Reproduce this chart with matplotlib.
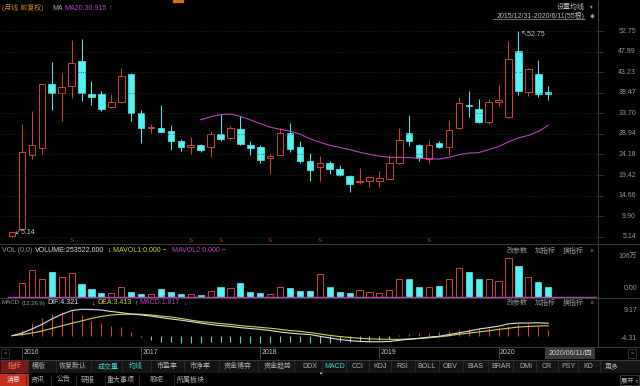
import matplotlib
matplotlib.use("Agg")
import matplotlib.pyplot as plt
from matplotlib.patches import Rectangle
from matplotlib.transforms import blended_transform_factory

plt.rcParams["font.family"] = ["Liberation Sans", "Noto Sans CJK SC", "DejaVu Sans"]
plt.rcParams["font.size"] = 5

W, H = 640, 386
RED = "#d0463a"
CYAN = "#54f2f2"
TEAL = "#6cd0d0"
MAGENTA = "#c040c8"
YELLOW = "#d2d24e"
WHITE = "#e0e0e0"
GREY = "#9a9a9a"
LINE = "#3a3a3a"

# monthly bars 2015/12 .. 2020/06, forward adjusted
opens = [5.30, 6.90, 24.1, 25.6, 40.5, 38.5, 40.0, 45.9, 38.2, 38.2,
         35.25, 36.25, 42.9, 33.85, 30.3, 30.2, 29.6, 27.4, 25.8, 26.3,
         25.8, 28.9, 28.1, 30.0, 26.3, 25.8, 23.3, 24.1, 29.2, 25.8,
         22.6, 21.2, 22.2, 20.9, 19.3, 17.7, 18.1, 18.1, 18.6, 22.2,
         29.2, 26.4, 23.1, 26.9, 26.0, 30.2, 35.7, 34.7, 31.6, 36.4,
         32.9, 48.1, 38.6, 42.9, 38.55]
highs = [6.20, 31.2, 34.3, 40.6, 45.6, 43.1, 50.6, 50.9, 41.2, 38.9,
         38.2, 44.1, 43.1, 34.5, 31.2, 35.6, 31.0, 27.7, 28.3, 26.6,
         29.6, 33.5, 30.8, 33.1, 27.2, 26.4, 24.3, 30.4, 31.4, 27.2,
         24.5, 23.8, 22.7, 21.8, 19.5, 21.0, 19.0, 20.4, 24.0, 30.4,
         33.3, 26.6, 27.5, 27.2, 32.2, 37.5, 38.9, 37.1, 37.1, 40.2,
         50.5, 52.75, 44.3, 46.0, 40.0]
lows = [5.14, 6.90, 23.1, 24.3, 34.5, 32.0, 37.2, 36.6, 35.6, 34.3,
        35.0, 36.0, 32.0, 26.9, 29.1, 29.3, 25.1, 24.9, 24.3, 24.7,
        23.7, 27.2, 27.5, 26.4, 24.1, 22.3, 19.6, 24.0, 24.8, 22.2,
        18.1, 18.1, 19.7, 19.1, 15.4, 17.4, 16.6, 16.7, 18.5, 21.9,
        26.2, 22.7, 22.2, 25.7, 24.1, 30.0, 32.9, 31.4, 31.2, 35.3,
        32.7, 37.9, 37.7, 37.4, 36.8]
closes = [6.16, 24.7, 26.4, 40.4, 38.5, 39.8, 45.25, 38.5, 37.5, 34.6,
          36.25, 42.3, 33.7, 30.2, 30.5, 29.4, 27.4, 25.8, 26.4, 25.2,
          28.85, 27.7, 30.2, 26.6, 25.6, 22.9, 23.8, 29.1, 25.4, 22.6,
          20.6, 22.2, 20.8, 19.5, 17.4, 18.0, 18.9, 18.8, 22.3, 27.5,
          27.2, 23.3, 26.4, 26.0, 29.9, 36.2, 35.5, 31.8, 36.4, 36.8,
          46.2, 38.85, 43.9, 38.2, 38.2]
# volume in 万
volumes = [0.5, 34.8, 69.4, 45.2, 63.4, 50.4, 60.8, 33.0, 19.2, 10.4,
           8.8, 24.4, 11.4, 7.0, 6.2, 19.2, 11.4, 6.2, 7.0, 3.6,
           14.0, 24.4, 21.8, 36.4, 13.0, 10.4, 7.0, 24.4, 23.4, 15.6,
           15.6, 59.0, 26.0, 13.0, 10.4, 17.4, 13.0, 10.4, 17.4, 45.0,
           45.0, 24.4, 24.4, 28.6, 46.0, 73.8, 63.4, 46.0, 46.5, 40.8,
           99.8, 80.6, 50.4, 39.0, 25.35]
ma20_first = 19
ma20 = [32.2, 32.9, 33.4, 33.55, 33.0, 32.2, 31.3, 30.5, 30.0, 29.6,
        28.9, 27.8, 27.0, 26.3, 25.8, 25.3, 24.7, 24.2, 23.8, 23.5,
        23.5, 23.45, 23.3, 23.2, 23.1, 23.5, 24.1, 24.5, 24.6, 25.3,
        26.0, 27.1, 28.0, 28.6, 29.5, 30.9]
dif = [0.0, 0.9, 2.3, 3.9, 5.8, 7.4, 8.7, 9.17, 9.1, 8.9,
       8.4, 8.0, 7.5, 7.2, 6.8, 6.3, 5.8, 5.4, 4.9, 4.4,
       3.9, 3.5, 3.2, 2.8, 2.5, 2.2, 1.8, 1.3, 0.9, 0.6,
       0.4, -0.2, -0.8, -1.3, -1.7, -2.0, -2.1, -2.1, -2.0, -1.6,
       -1.2, -0.9, -0.5, -0.2, 0.4, 1.0, 1.6, 2.3, 2.8, 3.3,
       4.1, 4.4, 4.4, 4.5, 4.321]
dea = [0.0, 0.4, 0.9, 1.6, 2.5, 3.4, 4.3, 5.1, 6.0, 6.7,
       7.2, 7.4, 7.5, 7.45, 7.2, 6.8, 6.5, 6.0, 5.4, 4.9,
       4.6, 4.2, 3.9, 3.5, 3.2, 2.9, 2.6, 2.2, 1.8, 1.5,
       1.1, 0.6, 0.1, -0.3, -0.6, -0.9, -1.1, -1.2, -1.25, -1.25,
       -1.15, -1.0, -0.7, -0.4, 0.0, 0.5, 0.9, 1.3, 1.7, 2.2,
       2.6, 3.0, 3.2, 3.4, 3.413]
macd_hist = [0.0, 2.0, 4.3, 6.2, 7.5, 8.1, 8.6, 7.2, 5.2, 4.3,
             3.4, 2.9, 1.4, -0.5, -1.5, -2.1, -2.3, -2.4, -2.4, -2.6,
             -2.3, -2.3, -2.3, -2.4, -2.4, -2.6, -2.4, -2.1, -2.1, -2.3,
             -2.6, -2.6, -2.4, -2.3, -2.2, -2.0, -1.7, -1.4, -1.0, 0.2,
             0.6, 0.9, 1.1, 1.3, 1.7, 2.0, 2.3, 2.5, 2.6, 2.7,
             3.4, 3.9, 3.9, 3.4, 1.817]
price_ticks = [5.14, 9.90, 14.66, 19.42, 24.18, 28.94, 33.70, 38.47, 43.23, 47.99, 52.75]
year_labels = ["2016", "2017", "2018", "2019", "2020"]
year_bar = [1, 13, 25, 37, 49]
dividend_bars = [6, 18, 21, 26, 31, 42]
tab_names = ["指标", "模版", "恢复默认", "成交量", "均线", "市盈率", "市净率", "资金博弈",
             "资金趋势", "DDX", "MACD", "CCI", "KDJ", "RSI", "BOLL", "OBV", "BIAS",
             "BRAR", "DMI", "CR", "PSY", "KD", "更多"]
tab_active = ["成交量", "均线", "MACD"]
news_names = ["消息", "资讯", "公告", "研报", "重大事项", "股吧", "所属板块"]

# layout (pixels)
TAB_X = [15, 39, 72.5, 108.5, 135.5, 167, 200, 237.5, 278, 310, 334.5, 358, 380.5,
         402, 427, 450.5, 475.5, 501, 525.5, 547, 568, 588.5, 611.5]
NEWS_X = [14, 38, 63.5, 88, 121, 156.5, 190.5]
X0, STEP, RIGHT = 12.0, 9.93, 597
XLIM = (-X0 / STEP, (RIGHT - X0) / STEP)

fig = plt.figure(figsize=(W / 100, H / 100), dpi=100, facecolor="black")


def px_axes(x0, y0, x1, y1):
    ax = fig.add_axes([x0 / W, 1 - y1 / H, (x1 - x0) / W, (y1 - y0) / H])
    ax.set_axis_off()
    ax.set_xlim(XLIM)
    return ax


n = len(closes)
idx = list(range(n))
up = [c >= o for o, c in zip(opens, closes)]

# ---- price panel
ax = px_axes(0, 20, RIGHT, 243)
ax.set_ylim(5.14 - 6.3 / 4.32, 5.14 + 216.7 / 4.32)
for t in price_ticks:
    ax.axhline(t, color="#262626", lw=0.5, ls=(0, (1.5, 2)))
for i in idx:
    o, h, l, c = opens[i], highs[i], lows[i], closes[i]
    if up[i]:
        ax.vlines(i, max(o, c), h, color=RED, lw=0.7)
        ax.vlines(i, l, min(o, c), color=RED, lw=0.7)
        ax.add_patch(Rectangle((i - 0.33, o), 0.66, c - o, facecolor="black",
                               edgecolor=RED, lw=0.7))
    else:
        ax.vlines(i, l, h, color=CYAN, lw=0.7)
        ax.add_patch(Rectangle((i - 0.33, c), 0.66, o - c, facecolor=CYAN,
                               edgecolor=CYAN, lw=0.5))
ax.plot(range(ma20_first, ma20_first + len(ma20)), ma20, color=MAGENTA, lw=0.8)
imax = highs.index(max(highs))
imin = lows.index(min(lows))
ax.text(imax + 0.25, max(highs) - 0.9, "↖52.75", color="#c8c8c8", ha="left", va="center")
ax.text(imin + 0.3, min(lows) + 1.0, "↙5.14", color="#c8c8c8", ha="left", va="center")
for i in dividend_bars:
    ax.text(i, 4.15, "S", color="#e03030", ha="center", va="center", fontsize=4.5)
trans = blended_transform_factory(fig.transFigure, ax.transData)
for t in price_ticks:
    ax.text(636 / W, t, f"{t:.2f}", transform=trans, ha="right", va="center", color=GREY)
    ax.plot([RIGHT / W, 603 / W], [t, t], transform=trans, color=LINE, lw=0.6, clip_on=False)

# ---- volume panel
axv = px_axes(0, 243, RIGHT, 298)
axv.set_ylim(-1.3 * 2.6, 53.7 * 2.6)
for i in idx:
    if up[i]:
        axv.bar(i, volumes[i], width=0.62, facecolor="black", edgecolor=RED, lw=0.7)
    else:
        axv.bar(i, volumes[i], width=0.62, facecolor=CYAN, edgecolor=CYAN, lw=0.5)
axv.axhline(0, xmin=8 / RIGHT, color=MAGENTA, lw=1.0)

# ---- MACD panel
axm = px_axes(0, 298, RIGHT, 346)
axm.set_ylim(-10.3 * 0.347, 37.7 * 0.347)
for i in idx:
    axm.vlines(i, 0, macd_hist[i], color=RED if macd_hist[i] >= 0 else TEAL, lw=0.8)
axm.plot(idx, dea, color=YELLOW, lw=0.8)
axm.plot(idx, dif, color=WHITE, lw=0.8)

# ---- overlay in pixel coordinates
ov = fig.add_axes([0, 0, 1, 1])
ov.set_axis_off()
ov.set_xlim(0, W)
ov.set_ylim(H, 0)


def txt(x, y, s, color=GREY, ha="left", **kw):
    ov.text(x, y, s, color=color, ha=ha, va="center", **kw)


# frame lines
ov.plot([RIGHT + 0.5, RIGHT + 0.5], [0, 346], color=LINE, lw=0.8)
for y in (243.5, 298, 346.5, 359.5):
    ov.plot([0, W], [y, y], color=LINE, lw=0.8)
ov.add_patch(Rectangle((173, 0), 10, 1.5, color="#d07020"))

# header
txt(2, 8, "(月线 前复权)", color="#d4822a")
txt(52, 8, "MA", color="#b0b0b0")
txt(64, 8, "MA20:30.915", color=MAGENTA)
txt(108, 8, "↑", color=MAGENTA)
txt(585, 7, "设置均线", color="#c0c0c0", ha="right")
txt(591, 7, "▾", color=GREY, ha="center", fontsize=4)
txt(585, 16, "2015/12/31-2020/6/11(55根)", color="#c0c0c0", ha="right")
ov.plot([493, 585], [19, 19], color="#a0a0a0", lw=0.5)
txt(592, 16, "◆", color=GREY, ha="center", fontsize=3.5)

# volume header
txt(2, 250, "VOL (0,0)", color=GREY)
txt(35, 250, "VOLUME:253522.000", color=WHITE)
txt(107, 250, "↓", color=WHITE)
txt(113, 250, "MAVOL1:0.000 −", color=YELLOW)
txt(172, 250, "MAVOL2:0.000 −", color=MAGENTA)
for y in (251, 303):
    txt(507, y, "改参数", color=GREY)
    txt(535, y, "加指标", color=GREY)
    txt(563, y, "换指标", color=GREY)
    txt(590, y, "×", color=GREY)
txt(637, 256, "106万", ha="right")
txt(637, 288, "0.00", ha="right")

# MACD header
txt(2, 303, "MACD", color=GREY, fontsize=4.4)
txt(21.5, 303, "(12,26,9)", color=GREY, fontsize=4.2)
txt(47, 303, "DIF:4.321", color=WHITE)
txt(91, 303, "↓", color=WHITE)
txt(97, 303, "DEA:3.413", color=YELLOW)
txt(134, 303, "↑", color=YELLOW)
txt(139, 303, "MACD:1.817", color=MAGENTA)
txt(183, 303, "↓", color=MAGENTA)
txt(637, 310, "9.17", ha="right")
txt(637, 339, "-4.31", ha="right")

# date axis
for lab, b in zip(year_labels, year_bar):
    x = X0 + b * STEP
    ov.plot([x, x], [347, 358], color="#555555", lw=0.6)
    txt(x + 1.5, 353, lab, color="#c8c8c8")
ov.add_patch(Rectangle((1, 348.5), 8, 9, fill=False, edgecolor=LINE, lw=0.6))
txt(5, 353, "«", ha="center", fontsize=4)
ov.add_patch(Rectangle((628, 348.5), 8, 9, fill=False, edgecolor=LINE, lw=0.6))
txt(632, 353, "»", ha="center", fontsize=4)
ov.add_patch(Rectangle((545, 347.5), 50, 11, facecolor="#3c3c3c"))
txt(570, 353, "2020/06/11/四", color="#d8d8d8", ha="center")

# indicator tabs
ov.add_patch(Rectangle((0, 360), W, 13, facecolor="#141414"))
ov.add_patch(Rectangle((1, 360.5), 28, 12, facecolor="#7a1a14"))
for k, (name, x) in enumerate(zip(tab_names, TAB_X)):
    if k == 0:
        col = "#ff7060"
    elif name in tab_active:
        col = "#40d8d8"
    else:
        col = "#b0b0b0"
    txt(x, 366.5, name, color=col, ha="center")
    if k > 0:
        sx = (TAB_X[k - 1] + x) / 2
        ov.plot([sx, sx], [361, 372], color="#2e2e2e", lw=0.6)
txt(320, 373.5, "▲", color="#d0d0d0", ha="center", fontsize=3)

# news tabs
ov.add_patch(Rectangle((0, 374), 29, 12, facecolor="#c0301c"))
for k, (name, x) in enumerate(zip(news_names, NEWS_X)):
    txt(x, 380, name, color="#f0f0f0" if k == 0 else "#b0b0b0", ha="center")
    if k > 0:
        sx = (NEWS_X[k - 1] + x) / 2
        ov.plot([sx, sx], [375, 385], color="#2e2e2e", lw=0.6)
ov.add_patch(Rectangle((620, 375), 19, 10, fill=False, edgecolor="#444444", lw=0.6))
txt(629.5, 380, "展开 ±", color="#b0b0b0", ha="center", fontsize=4.5)

fig.savefig("out.png", dpi=100, facecolor="black")
